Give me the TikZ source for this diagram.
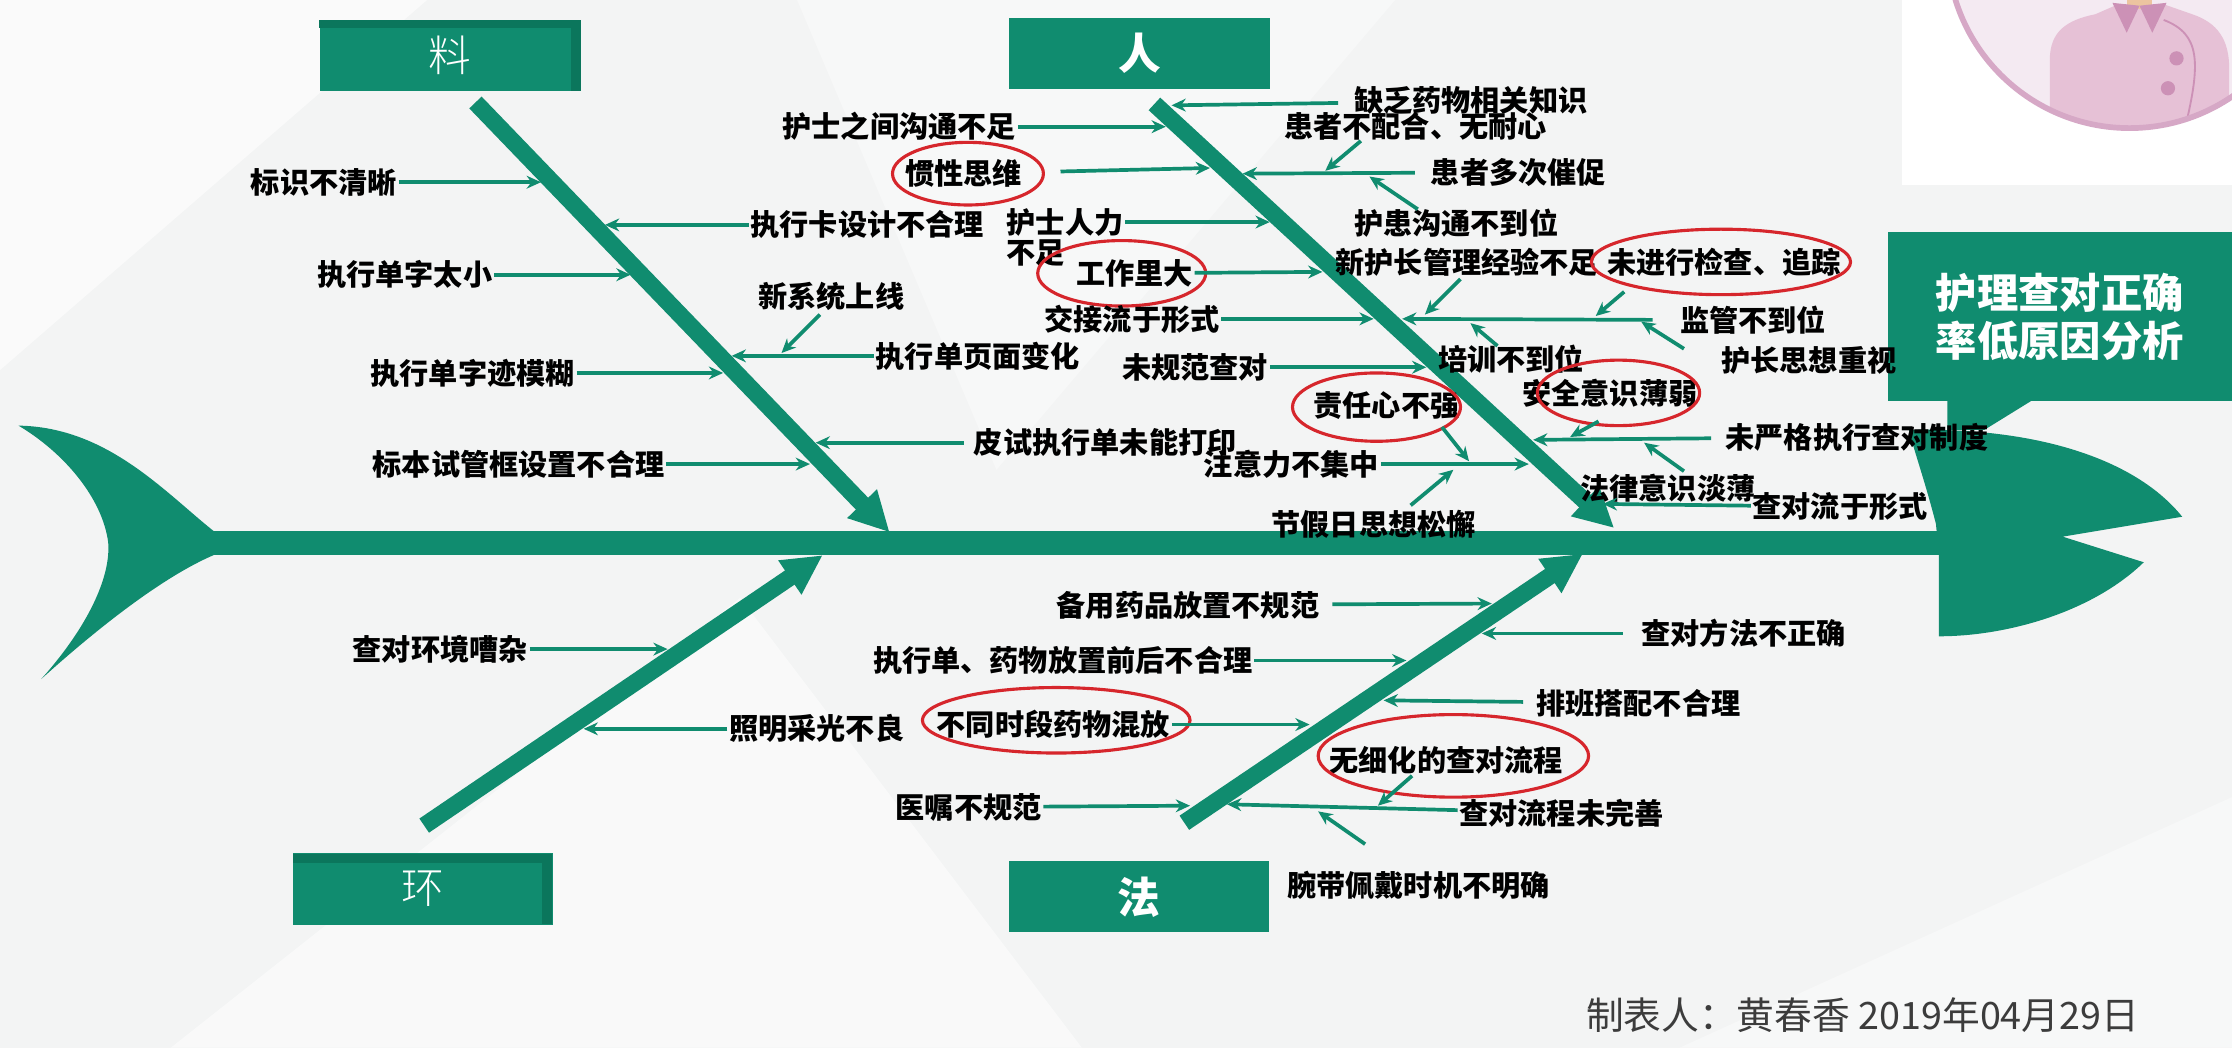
\documentclass[tikz,border=0pt]{standalone}
\usepackage{fontspec}
\newfontfamily\cjk{Noto Sans CJK SC}
\newfontfamily\cjklight{Noto Sans CJK SC Light}
\usetikzlibrary{arrows.meta, shapes.geometric, positioning}

\definecolor{fishgreen}{RGB}{16,140,111}
\definecolor{fishdark}{RGB}{11,118,92}
\definecolor{ringred}{RGB}{214,38,44}
\definecolor{paper}{RGB}{243,244,244}
\definecolor{footgrey}{RGB}{60,60,60}
\definecolor{avfill}{RGB}{244,234,242}
\definecolor{avring}{RGB}{214,168,198}
\definecolor{shirt}{RGB}{230,193,214}
\definecolor{collar}{RGB}{204,145,182}
\definecolor{skin}{RGB}{236,196,160}

\begin{document}
\begin{tikzpicture}[x=1pt, y=-1pt,
  lbl/.style={font=\cjk\bfseries\fontsize{20.5}{22}\selectfont, inner sep=1pt},
  cat/.style={fill=fishgreen, text=white, minimum width=183pt, minimum height=50pt, inner sep=0pt},
  tw/.style={draw=fishgreen, line width=2.6pt, -{Stealth[length=10pt,width=9pt]}},
  bone/.style={draw=fishgreen, line width=12pt, -{Triangle[length=28pt,width=27pt]}},
  ring/.style={ellipse, draw=ringred, line width=2.2pt, inner sep=0pt}]
\useasboundingbox (0,0) rectangle (1568,736);

% paper and faint facets
\fill[paper] (0,0) rectangle (1568,736);
\fill[white, opacity=.6] (0,0) -- (300,0) -- (0,260) -- cycle;
\fill[white, opacity=.5] (120,736) -- (520,420) -- (760,736) -- cycle;
\fill[white, opacity=.4] (1180,736) -- (1568,560) -- (1568,736) -- cycle;
\fill[white, opacity=.4] (560,0) -- (980,0) -- (700,330) -- cycle;

% avatar corner
\begin{scope}
  \clip (1336,0) rectangle (1568,130);
  \fill[white] (1336,0) rectangle (1568,130);
  \fill[avfill] (1496,-38) circle[radius=128];
  \begin{scope}
    \clip (1496,-38) circle[radius=128];
    \fill[shirt] (1440,110) -- (1440,42) .. controls (1440,22) and (1452,14) .. (1472,10)
      -- (1488,3) -- (1520,3) -- (1540,10) .. controls (1558,16) and (1566,28) .. (1566,48) -- (1566,110) -- cycle;
    \fill[skin] (1494,0) rectangle (1512,6);
    \fill[collar] (1484,2) -- (1503,4) -- (1494,23) -- cycle;
    \fill[collar] (1503,4) -- (1522,2) -- (1512,23) -- cycle;
    \draw[collar, line width=1.3pt] (1520,14) .. controls (1546,24) and (1546,44) .. (1535,90);
    \fill[collar] (1529,41) circle[radius=5];
    \fill[collar] (1523,62) circle[radius=5];
  \end{scope}
  \draw[avring, line width=4pt] (1496,-38) circle[radius=128];
\end{scope}

% tail, spine and head
\fill[fishgreen] (13,299) .. controls (75,300) and (115,345) .. (150,373) -- (150,390)
  .. controls (115,405) and (70,440) .. (29,477) .. controls (62,440) and (78,405) .. (76,381)
  .. controls (72,350) and (45,318) .. (13,299) -- cycle;
\draw[fishgreen, line width=17pt] (148,381.5) -- (1364,381.5);
\fill[fishgreen] (1341,302) .. controls (1430,300) and (1500,322) .. (1533,363) -- (1449,377) -- (1506,395)
  .. controls (1470,430) and (1410,447) .. (1362,447) -- (1362,389) -- (1360,368)
  .. controls (1352,337) and (1345,318) .. (1341,302) -- cycle;

% title with pointer
\fill[fishgreen] (1368,281) -- (1428,281) -- (1394,302) -- (1368,302) -- cycle;
\node[fill=fishgreen, text=white, minimum width=242pt, minimum height=119pt, align=center,
  font=\cjk\bfseries\fontsize{29}{34}\selectfont] (title) at (1447,222.5) {护理查对正确\\率低原因分析};

% main bones
\coordinate (lA) at (334,72);  \coordinate (lB) at (625,374);
\coordinate (pA) at (811,73);  \coordinate (pB) at (1134,371);
\coordinate (eA) at (298,580); \coordinate (eB) at (578,390);
\coordinate (fA) at (832,578); \coordinate (fB) at (1112,389);
\draw[bone] (lA) -- (lB);
\draw[bone] (pA) -- (pB);
\draw[bone] (eA) -- (eB);
\draw[bone] (fA) -- (fB);

% category boxes
\node[cat, font=\cjklight\fontsize{30}{30}\selectfont] (liao) at (316,39) {料};
\fill[fishdark] (224,14) rectangle (408,20);
\fill[fishdark] (401,14) rectangle (408,64);
\node[cat, font=\cjk\bfseries\fontsize{30}{30}\selectfont] (ren) at (800.5,37.5) {人};
\node[cat, font=\cjklight\fontsize{30}{30}\selectfont] (huan) at (297,624.5) {环};
\fill[fishdark] (206,600) rectangle (388,606);
\fill[fishdark] (381,600) rectangle (388,649);
\node[cat, font=\cjk\bfseries\fontsize{30}{30}\selectfont] (fa) at (800,630) {法};

% materials
\node[lbl, anchor=east] (l1) at (280,128) {标识不清晰};
\node[lbl, anchor=west] (l2) at (526,158) {执行卡设计不合理};
\node[lbl, anchor=east] (l3) at (347,193) {执行单字太小};
\node[lbl] (l4) at (584,208) {新系统上线};
\node[lbl, anchor=west] (l5) at (614,250) {执行单页面变化};
\node[lbl, anchor=east] (l6) at (405,262) {执行单字迹模糊};
\node[lbl, anchor=west] (l7) at (683,311) {皮试执行单未能打印};
\node[lbl, anchor=east] (l8) at (468,326) {标本试管框设置不合理};
\coordinate (l1e) at (380,128);
\coordinate (l2e) at (425,158);
\coordinate (l3e) at (443,193);
\coordinate (l4a) at (576,221); \coordinate (l4e) at (549,248);
\coordinate (l5e) at (514,250);
\coordinate (l6e) at (508,262);
\coordinate (l7e) at (573,311);
\coordinate (l8e) at (569,326);
\draw[tw] (l1) -- (l1e);
\draw[tw] (l2) -- (l2e);
\draw[tw] (l3) -- (l3e);
\draw[tw] (l4a) -- (l4e);
\draw[tw] (l5) -- (l5e);
\draw[tw] (l6) -- (l6e);
\draw[tw, shorten <=6pt] (l7) -- (l7e);
\draw[tw] (l8) -- (l8e);

% people, left of the bone
\node[lbl, anchor=east] (p1) at (715,89) {护士之间沟通不足};
\node[lbl] (p2) at (677,122) {惯性思维};
\node[ring, minimum width=106pt, minimum height=44pt] (p2o) at (680,122) {};
\node[lbl, anchor=west] (p3) at (706,156) {护士人力};
\node[lbl, anchor=west] (p3b) at (706,178) {不足};
\node[lbl] (p4) at (797,192) {工作里大};
\node[ring, minimum width=118pt, minimum height=46pt] (p4o) at (788,192) {};
\node[lbl, anchor=east] (p5) at (858,224) {交接流于形式};
\node[lbl, anchor=east] (p6) at (892,258) {未规范查对};
\node[lbl] (p7) at (974,285) {责任心不强};
\node[ring, minimum width=118pt, minimum height=48pt] (p7o) at (967,286) {};
\node[lbl, anchor=east] (p8) at (970,326) {注意力不集中};
\node[lbl, anchor=west] (p9) at (892,368) {节假日思想松懈};
\coordinate (p1e) at (819,89);
\coordinate (p2e) at (850,118);
\coordinate (p3e) at (892,156);
\coordinate (p4e) at (929,191);
\coordinate (p5e) at (965,224);
\coordinate (p6e) at (1002,258);
\coordinate (p7a) at (1013,300); \coordinate (p7e) at (1032,324);
\coordinate (p8e) at (1074,326);
\coordinate (p9a) at (991,355);  \coordinate (p9e) at (1021,330);
\draw[tw] (p1) -- (p1e);
\draw[tw, shorten <=11pt] (p2o) -- (p2e);
\draw[tw] (p3) -- (p3e);
\draw[tw] (p4) -- (p4e);
\draw[tw] (p5) -- (p5e);
\draw[tw] (p6) -- (p6e);
\draw[tw] (p7a) -- (p7e);
\draw[tw] (p8) -- (p8e);
\draw[tw] (p9a) -- (p9e);

% people, right of the bone
\node[lbl, anchor=west] (q1) at (950,71) {缺乏药物相关知识};
\node[lbl, anchor=west] (q2) at (901,89) {患者不配合、无耐心};
\node[lbl, anchor=west] (q3) at (1004,121) {患者多次催促};
\node[lbl, anchor=west] (q4) at (950,157) {护患沟通不到位};
\node[lbl, anchor=west] (q5) at (937,184) {新护长管理经验不足};
\node[lbl] (q6) at (1211,184) {未进行检查、追踪};
\node[ring, minimum width=182pt, minimum height=46pt] (q6o) at (1209,184) {};
\node[lbl, anchor=west] (q7) at (1179,225) {监管不到位};
\node[lbl, anchor=west] (q8) at (1208,253) {护长思想重视};
\node[lbl, anchor=west] (q9) at (1009,252) {培训不到位};
\node[lbl] (q10) at (1131,276) {安全意识薄弱};
\node[ring, minimum width=114pt, minimum height=46pt] (q10o) at (1137,276) {};
\node[lbl, anchor=west] (q11) at (1211,307) {未严格执行查对制度};
\node[lbl, anchor=west] (q12) at (1109,343) {法律意识淡薄};
\node[lbl, anchor=west] (q13) at (1230,356) {查对流于形式};
\coordinate (q1e) at (823,74);
\coordinate (q2a) at (956,99);  \coordinate (q2e) at (931,120);
\coordinate (q3e) at (873,122);
\coordinate (q4a) at (996,147); \coordinate (q4e) at (962,124);
\coordinate (q5a) at (1026,196); \coordinate (q5e) at (1001,221);
\coordinate (q6a) at (1141,205); \coordinate (q6e) at (1121,222);
\coordinate (q7e) at (985,224);
\coordinate (q8a) at (1183,245); \coordinate (q8e) at (1153,226);
\coordinate (q9a) at (1052,243); \coordinate (q9e) at (1033,227);
\coordinate (q10a) at (1123,296); \coordinate (q10e) at (1103,307);
\coordinate (q11e) at (1077,309);
\coordinate (q12a) at (1183,331); \coordinate (q12e) at (1155,311);
\coordinate (q13e) at (1126,354);
\draw[tw, shorten <=10pt] (q1) -- (q1e);
\draw[tw] (q2a) -- (q2e);
\draw[tw, shorten <=10pt] (q3) -- (q3e);
\draw[tw] (q4a) -- (q4e);
\draw[tw] (q5a) -- (q5e);
\draw[tw] (q6a) -- (q6e);
\draw[tw, shorten <=18pt] (q7) -- (q7e);
\draw[tw] (q8a) -- (q8e);
\draw[tw] (q9a) -- (q9e);
\draw[tw] (q10a) -- (q10e);
\draw[tw, shorten <=9pt] (q11) -- (q11e);
\draw[tw] (q12a) -- (q12e);
\draw[tw] (q13) -- (q13e);

% environment
\node[lbl, anchor=east] (e1) at (372,456) {查对环境嘈杂};
\node[lbl, anchor=west] (e2) at (511,512) {照明采光不良};
\coordinate (e1e) at (469,456);
\coordinate (e2e) at (410,512);
\draw[tw] (e1) -- (e1e);
\draw[tw] (e2) -- (e2e);

% methods
\node[lbl, anchor=east] (f1) at (928,425) {备用药品放置不规范};
\node[lbl, anchor=west] (f2) at (1152,445) {查对方法不正确};
\node[lbl, anchor=east] (f3) at (881,464) {执行单、药物放置前后不合理};
\node[lbl, anchor=west] (f4) at (1078,494) {排班搭配不合理};
\node[lbl] (f5) at (740,509) {不同时段药物混放};
\node[ring, minimum width=188pt, minimum height=46pt] (f5o) at (742,506) {};
\node[lbl] (f6) at (1016,534) {无细化的查对流程};
\node[ring, minimum width=190pt, minimum height=58pt] (f6o) at (1021,531) {};
\node[lbl, anchor=east] (f7) at (733,567) {医嘱不规范};
\node[lbl, anchor=west] (f8) at (1024,571) {查对流程未完善};
\node[lbl, anchor=west] (f9) at (903,622) {腕带佩戴时机不明确};
\coordinate (f1e) at (1048,424);
\coordinate (f2e) at (1041,445);
\coordinate (f3e) at (988,464);
\coordinate (f4e) at (972,492);
\coordinate (f5e) at (920,509);
\coordinate (f6a) at (992,545); \coordinate (f6e) at (968,566);
\coordinate (f7e) at (836,566);
\coordinate (f8e) at (862,565);
\coordinate (f9a) at (959,593); \coordinate (f9e) at (926,570);
\draw[tw, shorten <=8pt] (f1) -- (f1e);
\draw[tw, shorten <=12pt] (f2) -- (f2e);
\draw[tw] (f3) -- (f3e);
\draw[tw, shorten <=8pt] (f4) -- (f4e);
\draw[tw] (f5) -- (f5e);
\draw[tw] (f6a) -- (f6e);
\draw[tw] (f7) -- (f7e);
\draw[tw] (f8) -- (f8e);
\draw[tw] (f9a) -- (f9e);

% maker and date
\node[anchor=west, inner sep=0pt, text=footgrey, font=\cjk\fontsize{26.5}{26.5}\selectfont] (maker) at (1114,713)
  {制表人：黄春香 2019年04月29日};
\end{tikzpicture}
\end{document}
